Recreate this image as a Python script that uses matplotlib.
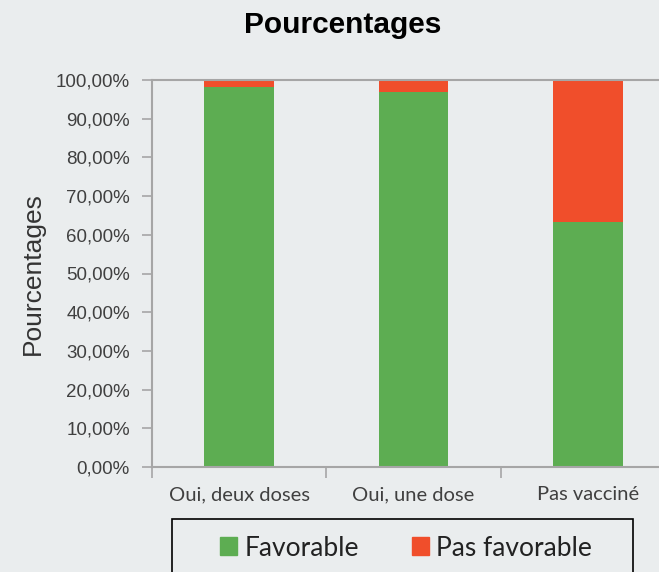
import matplotlib.pyplot as plt
from matplotlib.patches import Rectangle, Patch
from matplotlib.ticker import FuncFormatter

categories = ['Oui, deux doses', 'Oui, une dose', 'Pas vacciné']
favorable = [98.3, 97.0, 63.4]
pas_favorable = [1.7, 3.0, 36.6]

bg = '#EAEDEE'
vert = '#5DAD52'
rouge = '#F04E2B'

fig = plt.figure(figsize=(6.59, 5.72), dpi=100, facecolor=bg)
ax = fig.add_axes([152/659, 1 - 467/572, 523/659, 387/572], facecolor=bg)

x = range(len(categories))
ax.bar(x, favorable, width=0.4, color=vert, label='Favorable')
ax.bar(x, pas_favorable, width=0.4, bottom=favorable, color=rouge, label='Pas favorable')

ax.set_xlim(-0.5, 2.5)
ax.set_ylim(0, 100)
ax.set_yticks(range(0, 101, 10))
ax.yaxis.set_major_formatter(FuncFormatter(lambda v, p: f'{v:.2f}'.replace('.', ',') + '%'))
for t in ax.get_yticklabels():
    t.set_fontfamily('Liberation Sans')
ax.tick_params(axis='y', length=7, width=1.2, color='#A6A6A6', pad=9,
               labelsize=13.5, labelcolor='#404040')

# ticks between categories, labels at centers
ax.set_xticks([-0.5, 0.5, 1.5, 2.5])
ax.set_xticklabels([])
ax.set_xticks(list(x), minor=True)
ax.set_xticklabels(categories, minor=True, fontfamily='Lato', fontsize=14.5, color='#404040')
ax.tick_params(axis='x', which='major', length=8, width=1.2, color='#A6A6A6')
ax.tick_params(axis='x', which='minor', length=0, pad=14)

for s in ['left', 'bottom', 'top']:
    ax.spines[s].set_color('#A6A6A6')
    ax.spines[s].set_linewidth(1.5)
ax.spines['right'].set_visible(False)

ax.set_ylabel('Pourcentages', fontfamily='Liberation Sans', fontsize=19, color='#333333', labelpad=8)
fig.text(343/659, 1 - 25/572, 'Pourcentages', ha='center', va='center',
         fontfamily='Liberation Sans', fontweight='bold', fontsize=21.5)

# legend box
fig.patches.append(Rectangle((172/659, -0.02), 461/659, 1 - 519/572 + 0.02,
                             transform=fig.transFigure, fill=False, edgecolor='black', lw=1.2))
handles = [Patch(color=vert, label='Favorable'), Patch(color=rouge, label='Pas favorable')]
fig.legend(handles=handles, loc='center', bbox_to_anchor=(406/659, 1 - 548/572), ncol=2,
           frameon=False, prop={'family': 'Lato', 'size': 19}, handlelength=0.65,
           handleheight=0.65, handletextpad=0.28, columnspacing=2.0, labelcolor='#222222')

fig.savefig('out.png', dpi=100, facecolor=bg)
